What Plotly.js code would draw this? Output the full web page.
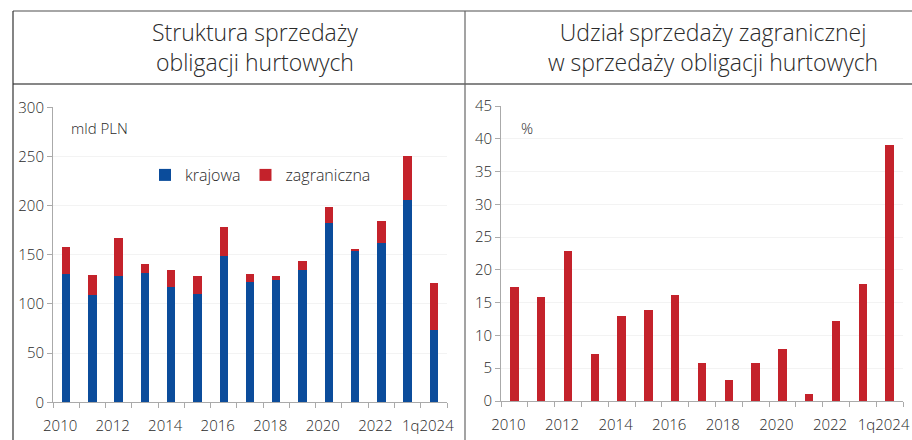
<!DOCTYPE html>
<html><head><meta charset="utf-8">
<script src="https://cdn.plot.ly/plotly-3.0.1.min.js"></script>
<style>html,body{margin:0;padding:0;background:#fff}#c{width:912px;height:440px}</style>
</head><body><div id="c"></div>
<script>
const categories = ["2010","2011","2012","2013","2014","2015","2016","2017","2018","2019","2020","2021","2022","2023","1q2024"];
const tickLabels = ["2010","","2012","","2014","","2016","","2018","","2020","","2022","","1q2024"];
const krajowa = [130.5,109,128.5,131.9,117,109.8,149,122,124.4,134.6,182.7,153.9,161.7,205.4,73.2];
const zagraniczna = [27.1,20.5,38.3,9.1,18,19,29.6,8.8,4.4,8.8,16.3,2.4,23,44.6,48.2];
const udzial = [17.4,15.9,22.9,7.1,12.9,13.9,16.1,5.85,3.2,5.85,8.0,1.0,12.25,17.8,39.0];

const W = 912, H = 440;
const px = x => x / W, py = y => 1 - y / H;
const BLUE = "#0b4c9b", RED = "#c4222b", TXT = "#2a2a2a";
const FONT = "Open Sans";

const traces = [
  {type:"bar", x:categories, y:krajowa, name:"krajowa", marker:{color:BLUE}, xaxis:"x", yaxis:"y"},
  {type:"bar", x:categories, y:zagraniczna, name:"zagraniczna", marker:{color:RED}, xaxis:"x", yaxis:"y"},
  {type:"bar", x:categories, y:udzial, name:"udział", marker:{color:RED}, xaxis:"x2", yaxis:"y2", showlegend:false}
];

const xcommon = {
  type:"category", tickmode:"array", tickvals:categories, ticktext:tickLabels, tickangle:0,
  tickson:"boundaries", ticks:"outside", ticklen:5, tickcolor:"#aaa",
  ticklabelstandoff:10, ticklabelshift:-6,
  showline:true, linecolor:"#aaa", showgrid:false, zeroline:false,
  tickfont:{family:FONT, size:15, color:TXT, weight:300}, fixedrange:true
};
const ycommon = {
  ticks:"outside", ticklen:5, tickcolor:"#aaa", showline:true, linecolor:"#aaa",
  showgrid:true, gridcolor:"#f3f3f3", zeroline:false,
  tickfont:{family:FONT, size:15, color:TXT, weight:300}, fixedrange:true
};

const layout = {
  width:W, height:H, margin:{l:0,r:0,t:0,b:0}, paper_bgcolor:"#fff", plot_bgcolor:"#fff",
  barmode:"stack", bargap:0.68,
  font:{family:FONT, color:TXT},
  showlegend:true,
  legend:{orientation:"h", x:px(145), y:py(158), xanchor:"left", yanchor:"top",
          font:{family:FONT, size:16, color:TXT, weight:300}, itemwidth:30, bgcolor:"rgba(0,0,0,0)", traceorder:"normal"},
  xaxis:Object.assign({}, xcommon, {domain:[px(53), px(447)], anchor:"y"}),
  yaxis:Object.assign({}, ycommon, {domain:[py(402.3), py(107.3)], range:[0,300], tickvals:[0,50,100,150,200,250,300], anchor:"x"}),
  xaxis2:Object.assign({}, xcommon, {domain:[px(501), px(903)], anchor:"y2"}),
  yaxis2:Object.assign({}, ycommon, {domain:[py(401), py(106)], range:[0,45], tickvals:[0,5,10,15,20,25,30,35,40,45], anchor:"x2"}),
  annotations:[
    {xref:"paper", yref:"paper", x:px(255), y:py(47), text:"Struktura sprzedaży<br>obligacji hurtowych", showarrow:false,
     font:{family:FONT, size:23, color:TXT, weight:300}, xanchor:"center", yanchor:"middle"},
    {xref:"paper", yref:"paper", x:px(713), y:py(47), text:"Udział sprzedaży zagranicznej<br>w sprzedaży obligacji hurtowych", showarrow:false,
     font:{family:FONT, size:23, color:TXT, weight:300}, xanchor:"center", yanchor:"middle"},
    {xref:"paper", yref:"paper", x:px(69), y:py(128), text:"mld PLN", showarrow:false,
     font:{family:FONT, size:15, color:TXT, weight:300}, xanchor:"left", yanchor:"middle"},
    {xref:"paper", yref:"paper", x:px(519), y:py(128), text:"%", showarrow:false,
     font:{family:FONT, size:15, color:TXT, weight:300}, xanchor:"left", yanchor:"middle"}
  ],
  shapes:[
    {type:"line", xref:"paper", yref:"paper", x0:px(13), x1:1, y0:py(11), y1:py(11), line:{color:"#888", width:1.5}},
    {type:"line", xref:"paper", yref:"paper", x0:px(13), x1:1, y0:py(84), y1:py(84), line:{color:"#111", width:1.2}},
    {type:"line", xref:"paper", yref:"paper", x0:px(13), x1:px(13), y0:py(11), y1:0, line:{color:"#333", width:1.2}},
    {type:"line", xref:"paper", yref:"paper", x0:px(465), x1:px(465), y0:py(11), y1:0, line:{color:"#666", width:1.2}}
  ]
};
Plotly.newPlot("c", traces, layout, {staticPlot:true, displayModeBar:false});
</script></body></html>
